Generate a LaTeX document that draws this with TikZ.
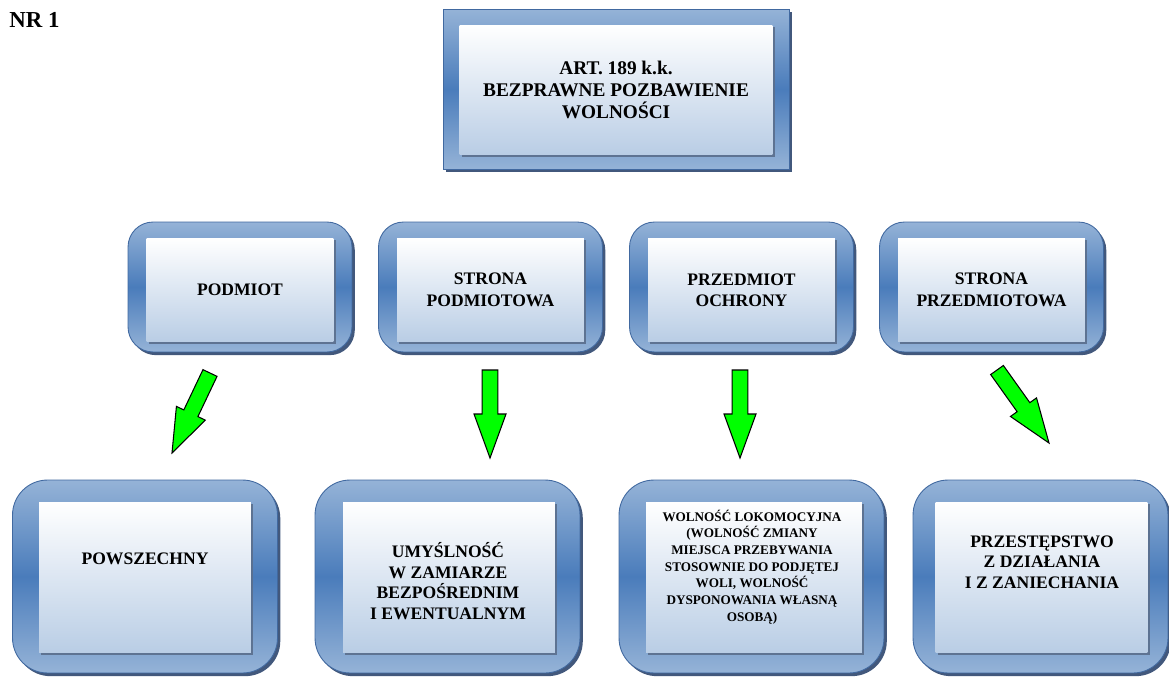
\documentclass[tikz,border=0pt]{standalone}
\usepackage{fontspec}
\setmainfont{Liberation Serif}
\usepackage{tikz}
\usetikzlibrary{calc}
\usetikzlibrary{shadows}

\definecolor{framelight}{RGB}{149,179,215}
\definecolor{framedark}{RGB}{74,124,187}
\definecolor{frameline}{RGB}{65,105,160}
\definecolor{innerblue}{RGB}{185,205,229}
\definecolor{shadowblue}{RGB}{45,70,110}
\definecolor{innershadow}{RGB}{90,110,140}
\definecolor{arrowgreen}{RGB}{0,255,0}

\tikzset{
  boxframe/.style={draw=frameline, line width=0.5pt,
    top color=framelight, bottom color=framelight, middle color=framedark,
    drop shadow={shadow xshift=1.6pt, shadow yshift=-1.8pt, fill=shadowblue, opacity=0.9}},
  roundframe/.style={boxframe, rounded corners=0.5cm, minimum width=4.48cm, minimum height=2.6cm},
  bigframe/.style={boxframe, rounded corners=0.7cm, minimum width=5.3cm, minimum height=3.86cm},
  inbox/.style={top color=white, bottom color=innerblue,
    drop shadow={shadow xshift=1.3pt, shadow yshift=-1.3pt, fill=innershadow, opacity=0.9},
    align=center, inner sep=0pt, font=\bfseries\fontsize{10}{12.2}\selectfont},
  smallin/.style={inbox, minimum width=3.74cm, minimum height=2.08cm},
  bigin/.style={inbox, minimum width=4.24cm, minimum height=3.02cm},
  boxtext/.style={align=center, inner sep=0pt, font=\bfseries\fontsize{10}{11.7}\selectfont},
  blockarrow/.style={fill=arrowgreen, draw=black, line width=0.6pt, line join=miter}
}

% green block arrow from #1 to #2
\newcommand{\greenarrow}[2]{%
  \coordinate (#1h) at ($(#2)!0.88cm!(#1)$);
  \draw[blockarrow] ($(#1)!0.156cm!90:(#2)$) -- ($(#1h)!0.156cm!90:(#2)$)
    -- ($(#1h)!0.32cm!90:(#2)$) -- (#2) -- ($(#1h)!0.32cm!-90:(#2)$)
    -- ($(#1h)!0.156cm!-90:(#2)$) -- ($(#1)!0.156cm!-90:(#2)$) -- cycle;}

\begin{document}
\begin{tikzpicture}[x=0.02cm, y=-0.02cm]
\useasboundingbox (0,0) rectangle (1169,676);

% title
\node[anchor=base west, inner sep=0pt, font=\bfseries\fontsize{13}{15}\selectfont] (nr) at (9,28) {NR 1};

% top box
\node[boxframe, minimum width=6.92cm, minimum height=3.2cm] (art) at (616,89) {};
\node[inbox, minimum width=6.26cm, minimum height=2.6cm, font=\bfseries\fontsize{11}{12.3}\selectfont] (artIn) at (616,90) {ART. 189 k.k.\\BEZPRAWNE POZBAWIENIE\\WOLNOŚCI};

% second row
\node[roundframe] (podmiot) at (240,287) {};
\node[smallin] (podmiotIn) at (240,290) {PODMIOT};

\node[roundframe] (podmiotowa) at (490.5,287) {};
\node[smallin] (podmiotowaIn) at (490.5,290) {STRONA\\PODMIOTOWA};

\node[roundframe] (ochrona) at (741.5,287) {};
\node[smallin] (ochronaIn) at (741.5,290) {PRZEDMIOT\\OCHRONY};

\node[roundframe] (przedmiotowa) at (991.5,287) {};
\node[smallin] (przedmiotowaIn) at (991.5,290) {STRONA\\PRZEDMIOTOWA};

% third row
\node[bigframe] (powszechny) at (145,576.5) {};
\node[bigin] (powszechnyIn) at (145,577.5) {};
\node[boxtext] (powszechnyT) at (145,559) {POWSZECHNY};

\node[bigframe] (umyslnosc) at (447.5,576.5) {};
\node[bigin] (umyslnoscIn) at (449,577.5) {};
\node[boxtext] (umyslnoscT) at (448,581) {UMYŚLNOŚĆ\\W ZAMIARZE\\BEZPOŚREDNIM\\I EWENTUALNYM};

\node[bigframe] (wolnosc) at (751.5,576.5) {};
\node[bigin, minimum width=4.32cm] (wolnoscIn) at (754,577.5) {};
\node[boxtext, font=\bfseries\fontsize{7.5}{9.5}\selectfont] (wolnoscT) at (752,567) {WOLNOŚĆ LOKOMOCYJNA\\(WOLNOŚĆ ZMIANY\\MIEJSCA PRZEBYWANIA\\STOSOWNIE DO PODJĘTEJ\\WOLI, WOLNOŚĆ\\DYSPONOWANIA WŁASNĄ\\OSOBĄ)};

\node[bigframe, minimum width=5.1cm] (przestepstwo) at (1040.5,576.5) {};
\node[bigin] (przestepstwoIn) at (1041.5,577.5) {};
\node[boxtext] (przestepstwoT) at (1042,562) {PRZESTĘPSTWO\\Z DZIAŁANIA\\I Z ZANIECHANIA};

% arrows
\coordinate (a1) at (210,373);
\coordinate (b1) at (172,453);
\greenarrow{a1}{b1}

\coordinate (a2) at (490,370);
\coordinate (b2) at (490,458);
\greenarrow{a2}{b2}

\coordinate (a3) at (740,370);
\coordinate (b3) at (740,458);
\greenarrow{a3}{b3}

\coordinate (a4) at (997,370);
\coordinate (b4) at (1049,443);
\greenarrow{a4}{b4}

\end{tikzpicture}
\end{document}
